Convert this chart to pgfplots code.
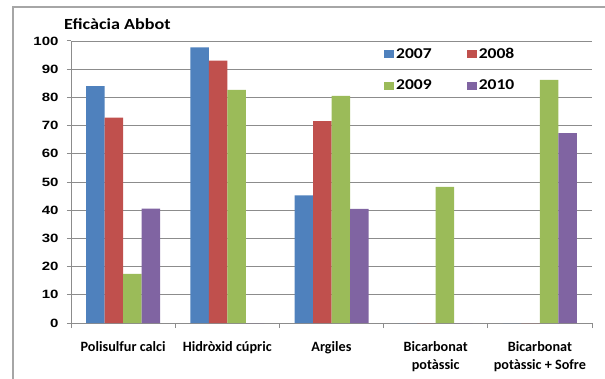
\documentclass[border=0pt]{standalone}
\usepackage{fontspec}
\setmainfont{Carlito}
\newfontfamily\tickfont[FakeStretch=1.25]{Liberation Sans Bold}
\newfontfamily\wfont[FakeStretch=1.17]{Carlito Bold}
\newfontfamily\catfont{Carlito Bold}
\usepackage{pgfplots}
\pgfplotsset{compat=1.18}
\definecolor{c07}{HTML}{4F81BD}
\definecolor{c08}{HTML}{C0504D}
\definecolor{c09}{HTML}{9BBB59}
\definecolor{c10}{HTML}{8064A2}
\definecolor{gridc}{HTML}{8C8C8C}
\definecolor{framec}{HTML}{A6A6A6}
\begin{document}
\begin{tikzpicture}
\path[use as bounding box] (-71pt,-55pt) rectangle (534pt,323pt);
\draw[framec, line width=1.5pt] (-58pt,-70pt) -- (-58pt,316pt) -- (560pt,316pt);
\begin{axis}[
  scale only axis, width=521pt, height=282pt,
  ybar=0pt, bar width=18.5pt,
  xmin=-0.5, xmax=4.5, ymin=0, ymax=100,
  xtick={0,1,2,3,4},
  xticklabels={Polisulfur calci, Hidròxid cúpric, Argiles, {Bicarbonat\\potàssic}, {Bicarbonat\\potàssic + Sofre}},
  xticklabel style={align=center, font=\catfont\fontsize{14.2}{18}\selectfont, anchor=north, yshift=-11pt},
  major x tick style={draw=none},
  minor xtick={-0.5,0.5,...,4.5},
  ytick={0,10,20,30,40,50,60,70,80,90,100},
  yticklabels={0,10,20,30,40,50,60,70,80,90,100},
  yticklabel style={font=\tickfont\fontsize{12}{13}\selectfont, xshift=-5pt},
  ymajorgrids, grid style={gridc, line width=0.9pt},
  axis x line*=bottom, axis y line*=left,
  axis line style={gridc, line width=1pt, -},
  tick align=outside, major tick length=4pt, minor tick length=5pt,
  tick style={gridc, line width=1pt},
  legend style={at={(rel axis cs:0.595,0.99)}, anchor=north west, draw=none, fill=none,
    legend columns=2, font=\wfont\fontsize{15}{17}\selectfont,
    /tikz/every even column/.append style={column sep=33pt},
    row sep=16pt},
  legend image code/.code={\fill[#1] (0pt,-4pt) rectangle (10pt,4pt);},
]
\addplot[fill=c07, draw=none] coordinates {(0,84) (1,97.7) (2,45.3) (3,0) (4,0)};
\addplot[fill=c08, draw=none] coordinates {(0,72.8) (1,93) (2,71.6) (3,0) (4,0)};
\addplot[fill=c09, draw=none] coordinates {(0,17.4) (1,82.7) (2,80.5) (3,48.3) (4,86.2)};
\addplot[fill=c10, draw=none] coordinates {(0,40.6) (1,0) (2,40.5) (3,0) (4,67.3)};
\legend{2007,2008,2009,2010}
\end{axis}
\node[anchor=base west, font=\wfont\fontsize{15.5}{17}\selectfont, inner sep=0pt] at (-7pt,293pt) {Eficàcia Abbot};
\end{tikzpicture}
\end{document}
